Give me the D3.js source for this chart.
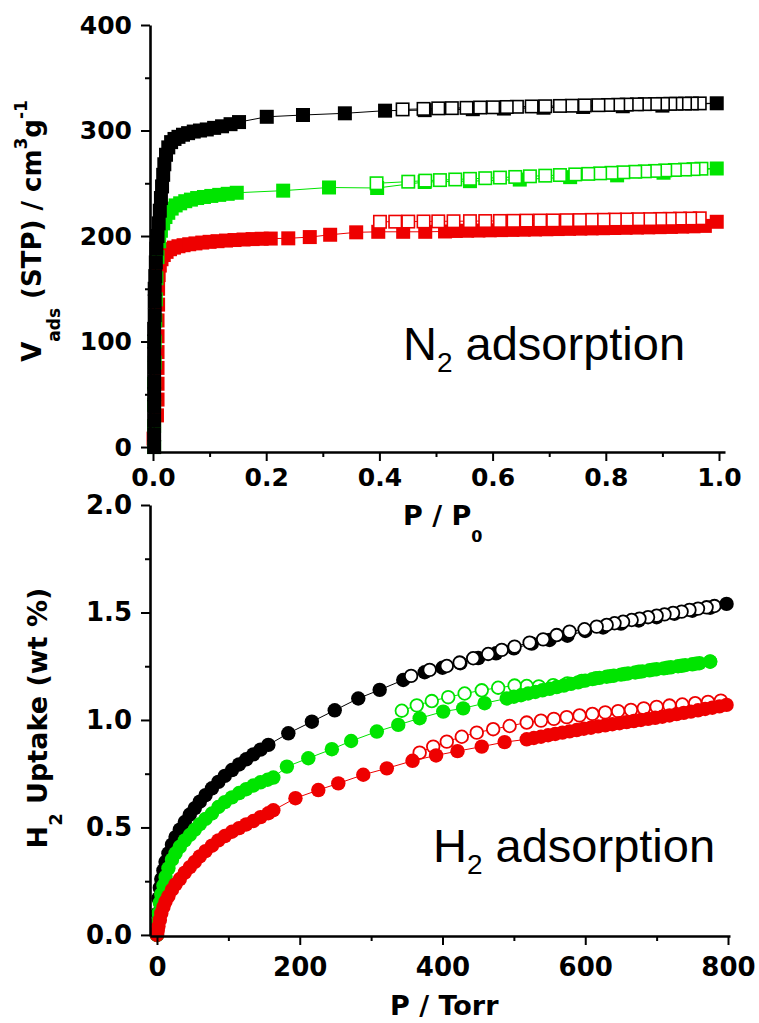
<!DOCTYPE html>
<html>
<head>
<meta charset="utf-8">
<script src="https://cdn.jsdelivr.net/npm/d3@7"></script>
<style>
  html, body { margin: 0; padding: 0; background: #fff; }
  svg { display: block; }
</style>
</head>
<body>
<svg id="chart" width="759" height="1023"></svg>
<script>
// ---------------- DATA ----------------
// Series colours (black, green, red samples)
const seriesColors = { black: "#000000", green: "#00e400", red: "#ee0000" };

// N2 isotherms: [P/P0, V_ads (cm3/g STP)]
const n2BlackAds = [[0.002,0],[0.002,12],[0.002,25],[0.002,38],[0.002,50],[0.002,62],[0.002,75],[0.002,88],[0.002,100],[0.002,112],[0.003,125],[0.003,138],[0.003,150],[0.004,162],[0.005,175],[0.006,188],[0.008,200],[0.010,212],[0.012,224],[0.014,236],[0.016,247],[0.018,258],[0.020,268],[0.023,277],[0.027,284],[0.032,289],[0.038,292],[0.045,294],[0.053,296],[0.062,297.5],[0.072,299],[0.083,300],[0.095,301],[0.108,302.5],[0.122,304],[0.137,306],[0.152,308],[0.201,313],[0.265,314.7],[0.339,316.3],[0.410,318.8],[0.48,319.3],[0.565,320.2],[0.62,320.8],[0.69,321.6],[0.76,322.3],[0.83,323.0],[0.90,323.6],[0.996,325.8]];
const n2BlackDes = [[0.966,325.7],[0.952,325.6],[0.940,325.5],[0.925,325.4],[0.914,325.3],[0.901,325.2],[0.887,325.1],[0.869,325.0],[0.855,324.8],[0.837,324.6],[0.822,324.4],[0.804,324.2],[0.787,324.0],[0.763,323.8],[0.740,323.5],[0.719,323.3],[0.693,323.0],[0.669,322.8],[0.643,322.5],[0.625,322.3],[0.601,322.0],[0.578,321.8],[0.554,321.5],[0.528,321.2],[0.504,321.0],[0.478,320.5],[0.441,320.0]];

const n2GreenAds = [[0.002,0],[0.002,20],[0.002,40],[0.002,60],[0.003,80],[0.003,100],[0.004,120],[0.005,140],[0.006,160],[0.008,180],[0.011,195],[0.014,205],[0.018,212],[0.022,218],[0.027,222],[0.033,226],[0.040,229],[0.048,231],[0.057,233],[0.067,234.5],[0.078,236],[0.090,237],[0.103,238],[0.117,239],[0.132,240],[0.148,241],[0.230,243],[0.311,246],[0.396,245.5],[0.48,251.2],[0.56,252.0],[0.648,253.5],[0.737,255.8],[0.82,257.5],[0.902,260.0],[0.996,264]];
const n2GreenDes = [[0.969,263.8],[0.955,263.4],[0.940,263.0],[0.922,262.6],[0.905,262.2],[0.887,261.7],[0.869,261.3],[0.852,260.9],[0.831,260.4],[0.810,259.9],[0.790,259.4],[0.769,258.9],[0.746,258.4],[0.719,257.8],[0.693,257.2],[0.666,256.6],[0.640,256.0],[0.613,255.4],[0.587,254.8],[0.560,254.2],[0.534,253.6],[0.507,253.0],[0.481,252.5],[0.451,251.5],[0.395,250.0]];

const n2RedAds = [[0.001,8],[0.007,30],[0.008,45],[0.008,60],[0.008,75],[0.008,90],[0.008,105],[0.008,120],[0.009,135],[0.009,150],[0.010,163],[0.012,172],[0.015,178],[0.019,182],[0.024,185],[0.030,187.5],[0.037,189],[0.045,190.3],[0.054,191.3],[0.064,192.2],[0.075,193],[0.087,193.8],[0.100,194.5],[0.114,195.1],[0.129,195.7],[0.144,196.2],[0.160,196.7],[0.176,197.1],[0.192,197.4],[0.208,197.6],[0.239,197.8],[0.277,199],[0.313,201.2],[0.359,203.5],[0.398,204],[0.442,204],[0.481,204],[0.516,204.3],[0.535,204.8],[0.555,205],[0.575,205.2],[0.595,205.4],[0.615,205.6],[0.635,205.8],[0.655,206],[0.675,206.2],[0.695,206.4],[0.715,206.6],[0.735,206.8],[0.755,207],[0.775,207.2],[0.795,207.4],[0.815,207.6],[0.835,207.8],[0.855,208],[0.875,208.2],[0.895,208.4],[0.915,208.6],[0.935,208.9],[0.955,209.2],[0.975,209.6],[0.996,213.5]];
const n2RedDes = [[0.966,216.8],[0.949,216.6],[0.931,216.5],[0.913,216.3],[0.896,216.2],[0.878,216.0],[0.857,215.9],[0.837,215.7],[0.816,215.6],[0.796,215.4],[0.775,215.3],[0.754,215.1],[0.731,215.0],[0.707,214.8],[0.684,214.7],[0.660,214.6],[0.637,214.4],[0.613,214.3],[0.587,214.2],[0.560,214.1],[0.531,214.0],[0.504,213.9],[0.478,213.8],[0.451,213.7],[0.428,213.6],[0.401,213.5]];

// H2 isotherms: [P (Torr), uptake (wt %)]
const h2BlackAds = [[0,0],[1,0.10],[2,0.17],[4,0.22],[6,0.26],[9,0.30],[12,0.34],[16,0.38],[21,0.42],[26,0.455],[32,0.49],[39,0.525],[46,0.56],[53,0.59],[60,0.62],[68,0.65],[77,0.682],[86,0.712],[95,0.74],[105,0.767],[115,0.793],[125,0.817],[135,0.84],[145,0.862],[156,0.884],[184,0.938],[217,0.992],[249,1.045],[282,1.10],[312,1.14],[345,1.186],[375,1.222],[400,1.243],[425,1.264],[450,1.288],[475,1.31],[500,1.333],[525,1.355],[550,1.372],[575,1.392],[600,1.414],[625,1.43],[650,1.448],[675,1.463],[700,1.478],[725,1.494],[750,1.508],[775,1.522],[798,1.54]];
const h2BlackDes = [[781,1.530],[770,1.524],[758,1.518],[746,1.512],[735,1.504],[723,1.498],[711,1.491],[700,1.485],[688,1.478],[676,1.471],[665,1.465],[653,1.457],[641,1.450],[630,1.442],[616,1.434],[599,1.422],[578,1.411],[560,1.395],[541,1.375],[522,1.360],[501,1.341],[483,1.326],[464,1.307],[443,1.287],[424,1.267],[406,1.251],[382,1.233],[356,1.205]];

const h2GreenAds = [[0,0],[1,0.06],[2,0.10],[4,0.15],[6,0.19],[9,0.23],[12,0.27],[16,0.31],[21,0.35],[26,0.38],[32,0.41],[39,0.44],[46,0.465],[53,0.49],[60,0.515],[68,0.54],[77,0.565],[86,0.595],[95,0.618],[105,0.64],[115,0.66],[125,0.678],[135,0.695],[145,0.71],[155,0.722],[163,0.732],[182,0.783],[212,0.822],[245,0.864],[272,0.902],[308,0.946],[338,0.977],[368,1.008],[401,1.039],[429,1.054],[459,1.078],[490,1.100],[500,1.108],[510,1.115],[520,1.123],[530,1.130],[540,1.138],[550,1.145],[560,1.153],[570,1.160],[580,1.168],[590,1.175],[600,1.183],[610,1.190],[620,1.196],[630,1.201],[640,1.206],[650,1.211],[660,1.216],[670,1.221],[680,1.226],[690,1.231],[700,1.236],[710,1.240],[720,1.245],[730,1.250],[740,1.255],[750,1.259],[760,1.264],[775,1.271]];
const h2GreenDes = [[775,1.272],[755,1.262],[735,1.252],[715,1.243],[695,1.234],[675,1.224],[655,1.214],[635,1.204],[615,1.194],[595,1.182],[575,1.170],[555,1.162],[535,1.156],[518,1.158],[501,1.160],[478,1.150],[455,1.138],[431,1.123],[408,1.106],[385,1.088],[364,1.068],[343,1.043]];

const h2RedAds = [[0,0],[1,0.02],[2,0.04],[4,0.07],[6,0.10],[9,0.13],[12,0.155],[16,0.18],[21,0.21],[26,0.235],[32,0.26],[39,0.29],[46,0.315],[53,0.34],[60,0.365],[68,0.39],[77,0.415],[86,0.44],[95,0.46],[105,0.48],[115,0.497],[125,0.514],[135,0.53],[145,0.548],[156,0.566],[163,0.58],[194,0.636],[226,0.674],[254,0.705],[289,0.745],[322,0.775],[358,0.81],[391,0.835],[421,0.855],[455,0.876],[487,0.897],[518,0.910],[528,0.916],[538,0.922],[548,0.929],[558,0.935],[568,0.941],[578,0.947],[588,0.953],[598,0.959],[608,0.964],[618,0.970],[628,0.975],[638,0.980],[648,0.985],[658,0.990],[668,0.995],[678,1.000],[688,1.005],[698,1.010],[708,1.015],[718,1.021],[728,1.027],[738,1.033],[748,1.039],[758,1.045],[768,1.051],[778,1.057],[788,1.063],[798,1.070]];
const h2RedDes = [[790,1.090],[772,1.084],[754,1.078],[736,1.072],[718,1.067],[700,1.061],[682,1.054],[664,1.047],[646,1.041],[628,1.035],[610,1.028],[592,1.021],[574,1.013],[556,1.005],[538,0.997],[518,0.988],[494,0.972],[471,0.957],[448,0.941],[427,0.922],[406,0.899],[387,0.876],[368,0.848]];

// Axis ticks
const n2XTicks = [0, 0.2, 0.4, 0.6, 0.8, 1.0];
const n2XMinor = [0.1, 0.3, 0.5, 0.7, 0.9];
const n2YTicks = [0, 100, 200, 300, 400];
const n2YMinor = [50, 150, 250, 350];
const h2XTicks = [0, 200, 400, 600, 800];
const h2XMinor = [100, 300, 500, 700];
const h2YTicks = [0, 0.5, 1.0, 1.5, 2.0];
const h2YMinor = [0.25, 0.75, 1.25, 1.75];

// Texts
const n2Annotation = ["N", "2", " adsorption"];
const h2Annotation = ["H", "2", " adsorption"];

// ---------------- DRAWING ----------------
const svg = d3.select("#chart");
svg.append("rect").attr("width", 759).attr("height", 1023).attr("fill", "#fff");

const BOLD = "'DejaVu Sans', sans-serif";
const REG = "'Liberation Sans', Arial, sans-serif";

function drawAxes(g, x, y, xT, xM, yT, yM, xFmt, yFmt, fs, xPad, yPad) {
  const ax = g.append("g").attr("transform", `translate(0,${y.range()[0]})`)
    .call(d3.axisBottom(x).tickValues(xT).tickSize(9).tickSizeOuter(0).tickPadding(xPad).tickFormat(xFmt));
  const axm = g.append("g").attr("transform", `translate(0,${y.range()[0]})`)
    .call(d3.axisBottom(x).tickValues(xM).tickSize(5).tickSizeOuter(0).tickFormat(""));
  axm.select(".domain").remove();
  const ay = g.append("g").attr("transform", `translate(${x.range()[0]},0)`)
    .call(d3.axisLeft(y).tickValues(yT).tickSize(9).tickSizeOuter(0).tickPadding(yPad).tickFormat(yFmt));
  const aym = g.append("g").attr("transform", `translate(${x.range()[0]},0)`)
    .call(d3.axisLeft(y).tickValues(yM).tickSize(5).tickSizeOuter(0).tickFormat(""));
  aym.select(".domain").remove();
  [ax, ay].forEach(a => {
    a.select(".domain").attr("stroke", "#000").attr("stroke-width", 2.6);
    a.selectAll("text").attr("font-family", BOLD).attr("font-weight", "bold")
      .attr("font-size", fs).attr("fill", "#000");
  });
  [ax, axm, ay, aym].forEach(a => a.selectAll(".tick line").attr("stroke", "#000").attr("stroke-width", 2));
}

function drawSeries(g, x, y, ads, des, color, shape, desOnTop) {
  const line = d3.line().x(d => x(d[0])).y(d => y(d[1]));
  const last = ads[ads.length - 1];
  g.append("path").datum(ads).attr("d", line).attr("fill", "none").attr("stroke", color).attr("stroke-width", 1);
  g.append("path").datum([last].concat(des)).attr("d", line).attr("fill", "none").attr("stroke", color).attr("stroke-width", 1);

  const S = 14, R = 7.2;
  function filled(data) {
    if (shape === "square") {
      g.append("g").selectAll("rect").data(data).join("rect")
        .attr("x", d => x(d[0]) - S / 2).attr("y", d => y(d[1]) - S / 2)
        .attr("width", S).attr("height", S).attr("fill", color);
    } else {
      g.append("g").selectAll("circle").data(data).join("circle")
        .attr("cx", d => x(d[0])).attr("cy", d => y(d[1])).attr("r", R).attr("fill", color);
    }
  }
  function open(data) {
    if (shape === "square") {
      g.append("g").selectAll("rect").data(data).join("rect")
        .attr("x", d => x(d[0]) - (S - 1.6) / 2).attr("y", d => y(d[1]) - (S - 1.6) / 2)
        .attr("width", S - 1.6).attr("height", S - 1.6).attr("fill", "#fff")
        .attr("stroke", color).attr("stroke-width", 1.6);
    } else {
      g.append("g").selectAll("circle").data(data).join("circle")
        .attr("cx", d => x(d[0])).attr("cy", d => y(d[1])).attr("r", R - 0.9)
        .attr("fill", "#fff").attr("stroke", color).attr("stroke-width", 1.8);
    }
  }
  if (desOnTop) {
    filled(ads.slice(0, -1));
    open(des);
    filled([last]);
  } else {
    open(des);
    filled(ads);
  }
}

// ---- Top panel: N2 ----
const gTop = svg.append("g");
const xN = d3.scaleLinear().domain([-0.0053, 1.0106]).range([150, 725]);
const yN = d3.scaleLinear().domain([-4.7, 400]).range([452, 25]);

const plotTop = gTop.append("g");
drawSeries(plotTop, xN, yN, n2RedAds, n2RedDes, seriesColors.red, "square", true);
drawSeries(plotTop, xN, yN, n2GreenAds, n2GreenDes, seriesColors.green, "square", true);
drawSeries(plotTop, xN, yN, n2BlackAds, n2BlackDes, seriesColors.black, "square", true);
drawAxes(gTop, xN, yN, n2XTicks, n2XMinor, n2YTicks, n2YMinor, d3.format(".1f"), d3.format("d"), 25, 7, 9);

// y title (top)
const ytTop = gTop.append("text")
  .attr("transform", "translate(41,231) rotate(-90)")
  .attr("text-anchor", "middle")
  .attr("font-family", BOLD).attr("font-weight", "bold").attr("font-size", 26).attr("fill", "#000");
ytTop.append("tspan").text("V");
ytTop.append("tspan").attr("font-size", 17).attr("dy", 19).text("ads");
ytTop.append("tspan").attr("dy", -19).text(" (STP) / cm");
ytTop.append("tspan").attr("font-size", 17).attr("dy", -14).text("3");
ytTop.append("tspan").attr("dy", 14).text("g");
ytTop.append("tspan").attr("font-size", 17).attr("dy", -14).text("-1");

// x title (top)
const xtTop = gTop.append("text").attr("x", 403).attr("y", 525)
  .attr("font-family", BOLD).attr("font-weight", "bold").attr("font-size", 27).attr("fill", "#000");
xtTop.append("tspan").text("P / P");
xtTop.append("tspan").attr("font-size", 16).attr("dy", 17).text("0");

// annotation (top)
const anTop = gTop.append("text").attr("x", 403).attr("y", 360)
  .attr("font-family", REG).attr("font-size", 47).attr("fill", "#000");
anTop.append("tspan").text(n2Annotation[0]);
anTop.append("tspan").attr("font-size", 28).attr("dy", 12).text(n2Annotation[1]);
anTop.append("tspan").attr("dy", -12).text(n2Annotation[2]);

// ---- Bottom panel: H2 ----
const gBot = svg.append("g");
const xH = d3.scaleLinear().domain([-9.8, 802.8]).range([150, 730]);
const yH = d3.scaleLinear().domain([-0.005, 2.0]).range([936, 505]);

const plotBot = gBot.append("g");
drawSeries(plotBot, xH, yH, h2BlackAds, h2BlackDes, seriesColors.black, "circle", true);
drawSeries(plotBot, xH, yH, h2GreenAds, h2GreenDes, seriesColors.green, "circle", false);
drawSeries(plotBot, xH, yH, h2RedAds, h2RedDes, seriesColors.red, "circle", false);
drawAxes(gBot, xH, yH, h2XTicks, h2XMinor, h2YTicks, h2YMinor, d3.format("d"), d3.format(".1f"), 26, 13, 9);

// y title (bottom)
const ytBot = gBot.append("text")
  .attr("transform", "translate(47,718) rotate(-90)")
  .attr("text-anchor", "middle")
  .attr("font-family", BOLD).attr("font-weight", "bold").attr("font-size", 27).attr("fill", "#000");
ytBot.append("tspan").text("H");
ytBot.append("tspan").attr("font-size", 18).attr("dy", 15).text("2");
ytBot.append("tspan").attr("dy", -15).text(" Uptake (wt %)");

// x title (bottom)
gBot.append("text").attr("x", 390).attr("y", 1015)
  .attr("font-family", BOLD).attr("font-weight", "bold").attr("font-size", 27).attr("fill", "#000")
  .text("P / Torr");

// annotation (bottom)
const anBot = gBot.append("text").attr("x", 433).attr("y", 862)
  .attr("font-family", REG).attr("font-size", 47).attr("fill", "#000");
anBot.append("tspan").text(h2Annotation[0]);
anBot.append("tspan").attr("font-size", 28).attr("dy", 12).text(h2Annotation[1]);
anBot.append("tspan").attr("dy", -12).text(h2Annotation[2]);
</script>
</body>
</html>
